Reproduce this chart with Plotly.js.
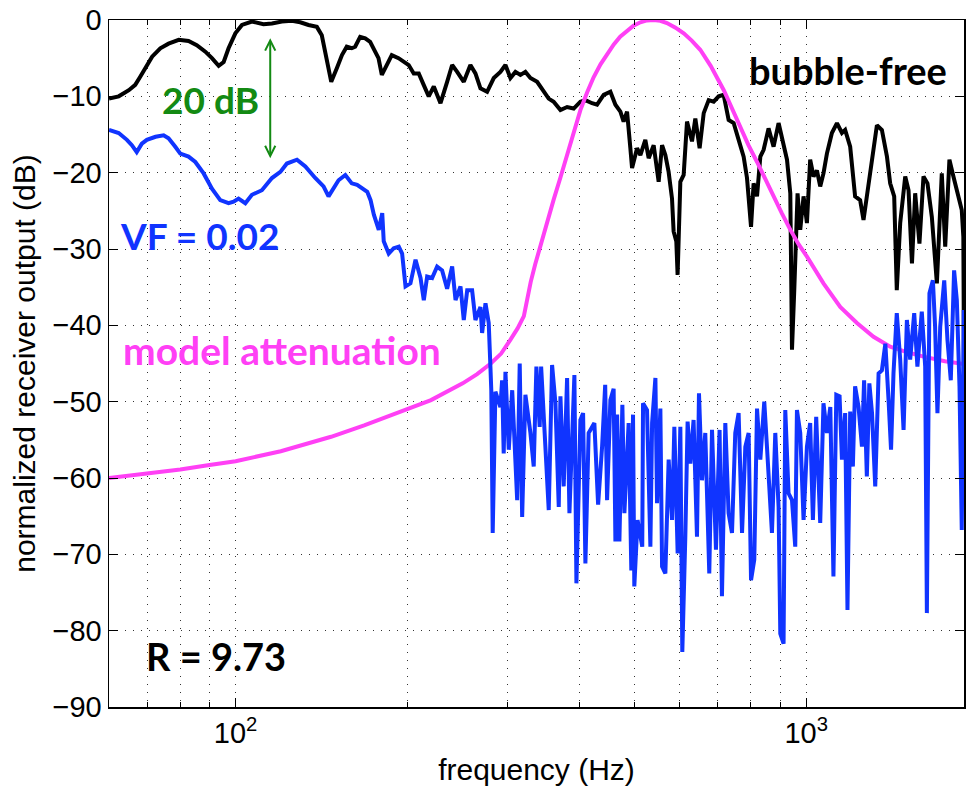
<!DOCTYPE html>
<html>
<head>
<meta charset="utf-8">
<script src="https://cdn.plot.ly/plotly-3.0.1.min.js"></script>
<style>html,body{margin:0;padding:0;background:#fff;}#chart{width:968px;height:789px;}</style>
</head>
<body>
<div id="chart"></div>
<script>
// [frequency (Hz), normalized receiver output (dB)]
const bubbleFree = [[60,-10.3],[62.4,-10.0],[65,-9.2],[66.7,-8.5],[68.1,-7.4],[69.5,-6.3],[71.4,-4.8],[73.8,-3.7],[76.3,-3.1],[79.5,-2.6],[82.7,-2.75],[85.5,-3.3],[88.5,-4.15],[90.9,-5.0],[93.4,-6.0],[95.3,-5.5],[97.2,-3.7],[99.9,-1.75],[102.6,-0.65],[106.8,-0.2],[111.9,-0.55],[115.8,-0.45],[120.5,-0.2],[125.5,-0.1],[129.8,-0.3],[134.2,-0.65],[138.8,-0.9],[141.6,-2.0],[144.5,-5.0],[147.1,-8.1],[150.5,-6.3],[153.6,-4.6],[156.6,-3.5],[159.8,-3.7],[162,-3.5],[165.3,-2.2],[168.7,-2.4],[172.1,-2.85],[175.6,-4.15],[178,-5.0],[180.4,-7.2],[184.1,-5.9],[187.8,-4.6],[193,-5.0],[199.5,-5.7],[201.1,-5.9],[205.2,-7.0],[209.4,-7.0],[213.6,-8.5],[218,-10.0],[222.5,-8.7],[228.6,-10.9],[234.8,-8.1],[239.6,-5.9],[244.5,-6.8],[251.1,-8.1],[257.9,-5.9],[263.2,-7.0],[268.6,-8.95],[275.9,-9.4],[283.4,-7.6],[291.1,-6.8],[297.1,-5.9],[303.1,-7.6],[309.3,-6.8],[315.6,-7.2],[322,-6.8],[328.6,-7.6],[337.6,-8.1],[344.4,-8.95],[353.7,-10.3],[360.9,-10.7],[370.9,-11.8],[381,-11.4],[391.3,-11.6],[402,-10.7],[410.2,-10.5],[421.4,-10.9],[430,-11.1],[441.6,-9.8],[453.7,-9.4],[463,-11.1],[472.4,-12.0],[478.6,-13.3],[485.3,-12.0],[491.8,-16.8],[495.2,-19.4],[505.3,-16.8],[512.1,-17.7],[522.4,-15.7],[529.5,-18.1],[540.3,-16.4],[551.3,-21.2],[558.9,-16.4],[566.4,-17.7],[573.9,-19.9],[581.8,-23.4],[585.6,-27.7],[592,-29.0],[595.1,-33.4],[601.7,-21.2],[609.8,-20.3],[618.1,-13.3],[630.7,-15.9],[639.2,-12.9],[650.4,-16.8],[661.2,-12.2],[674.6,-10.5],[688.3,-10.7],[702.3,-10.0],[716.6,-9.8],[731.2,-13.1],[746.1,-13.5],[761.3,-15.7],[776.8,-17.9],[787.4,-20.7],[800.3,-27.1],[808.7,-21.4],[819.9,-23.1],[830.9,-17.9],[842,-17.0],[859,-14.2],[876.5,-16.6],[894.4,-13.5],[912.6,-16.6],[925.3,-18.3],[937.7,-22.7],[944.1,-43.2],[952.8,-35.4],[965.6,-22.7],[976.1,-27.5],[989.3,-23.1],[1002.8,-26.6],[1016,-18.3],[1030,-20.5],[1044,-19.7],[1058,-21.8],[1072,-20.1],[1087,-17.5],[1109,-14.8],[1132,-13.5],[1155,-14.8],[1170,-14.4],[1194,-16.6],[1218,-23.1],[1243,-23.6],[1260,-26.2],[1286,-21.4],[1304,-17.9],[1330,-13.8],[1357,-14.4],[1385,-17.9],[1403,-21.4],[1426,-23.1],[1441,-35.4],[1461,-26.6],[1491,-20.5],[1511,-22.3],[1532,-31.9],[1552,-22.7],[1579,-29.3],[1605,-20.5],[1631,-21.4],[1660,-25.8],[1694,-34.5],[1728,-20.1],[1752,-29.7],[1782,-18.3],[1811,-20.5],[1836,-22.3],[1873,-24.9],[1885,-28.4],[1891,-49]];

const vf002 = [[60,-14.4],[62.4,-14.8],[64.5,-15.7],[65.8,-16.4],[67.1,-17.3],[68.5,-16.2],[69.9,-15.7],[72.4,-15.3],[74.8,-15.1],[76.3,-15.5],[78.4,-16.6],[80,-17.5],[82.7,-17.9],[85,-18.6],[87.9,-20.1],[90.9,-22.1],[94,-23.6],[97.2,-24.0],[99.2,-23.8],[101.2,-23.4],[104,-24.0],[106.8,-22.9],[111.2,-22.3],[115.8,-20.7],[119.8,-19.9],[123,-18.8],[128.1,-18.3],[132.5,-19.2],[137.9,-20.7],[142.6,-21.8],[145.5,-23.1],[151.5,-21.0],[155.7,-20.3],[159.8,-21.4],[163.3,-21.6],[170.1,-22.5],[172.4,-23.6],[174.7,-25.5],[178.2,-27.5],[180.7,-25.3],[181.8,-29.0],[185.5,-30.6],[189.3,-29.9],[193.2,-29.7],[195.8,-30.6],[198.5,-34.9],[202.5,-34.5],[206.7,-31.4],[210.9,-33.8],[213.7,-36.7],[216.6,-33.6],[221,-33.8],[225.5,-32.3],[230.1,-32.8],[234.8,-35.2],[239.6,-32.3],[242.9,-36.7],[247.8,-34.9],[251.1,-39.3],[254.6,-35.4],[259.7,-35.4],[263.2,-39.3],[268.6,-37.6],[270.4,-41.0],[274.1,-37.1],[277.7,-39.7],[279.6,-45.4],[280.6,-48.5],[282.2,-67.2],[285.3,-48.7],[291.1,-50.7],[293.1,-47.2],[295,-56.8],[297.1,-46.1],[301.1,-56.3],[305.3,-48.5],[311.5,-62.9],[314.7,-45.0],[317.8,-65.1],[322,-49.1],[328.6,-54.1],[333,-58.5],[336.6,-45.4],[341.1,-53.3],[343.1,-45.4],[349.1,-56.3],[353.8,-64.2],[358.6,-45.2],[363.5,-50.2],[368.4,-63.8],[370.9,-49.3],[375.8,-61.1],[381,-46.9],[384.6,-64.6],[392.4,-46.5],[395.6,-73.8],[402,-52.4],[406.4,-51.5],[410.2,-71.2],[415.6,-54.1],[425.3,-52.8],[431.8,-63.5],[438.8,-55.9],[444.3,-47.8],[447.7,-62.9],[453.7,-49.8],[459.7,-48.3],[463,-68.3],[466.2,-51.7],[470.5,-68.3],[476.2,-50.4],[480.1,-64.6],[488.4,-52.8],[493.7,-72.1],[497.1,-51.7],[499.7,-74.2],[506.3,-65.5],[516,-69.0],[517.6,-50.2],[526,-51.1],[533.2,-69.0],[536.9,-52.8],[544.1,-46.9],[547.7,-63.3],[555.1,-50.9],[558.9,-71.6],[566.4,-72.5],[574,-57.6],[581.9,-65.5],[587.3,-53.3],[595.2,-69.9],[601.7,-53.3],[606.5,-82.8],[613.9,-67.7],[619.6,-52.6],[626.5,-58.1],[634.7,-52.4],[643.5,-67.7],[648.7,-48.9],[656.6,-60.3],[665.4,-54.1],[676.2,-72.5],[683.7,-53.7],[694.7,-69.4],[704.9,-53.7],[711.7,-75.5],[721.4,-52.8],[731,-64.6],[741.1,-67.2],[751,-54.1],[761.2,-51.5],[771.8,-67.2],[782.1,-55.9],[792.6,-54.1],[800.3,-73.4],[810.9,-70.7],[819.9,-50.9],[830.9,-57.6],[844.2,-50.0],[853.4,-55.9],[870.8,-67.2],[882.6,-54.1],[894.4,-63.8],[900.6,-80.4],[912.6,-81.7],[918.9,-51.1],[931.1,-62.0],[944.1,-62.9],[956.6,-69.0],[963.2,-51.1],[976.1,-54.1],[989.3,-65.5],[1002.8,-55.9],[1016,-52.8],[1027.3,-65.5],[1041,-52.0],[1058,-65.9],[1072,-50.2],[1087,-54.1],[1102,-50.7],[1116,-72.9],[1129,-49.1],[1144,-49.3],[1155,-57.6],[1170,-51.5],[1181,-77.3],[1194,-51.3],[1207,-58.5],[1218,-48.0],[1235,-50.7],[1252,-55.9],[1263,-47.2],[1277,-59.8],[1290,-47.6],[1304,-51.5],[1321,-61.1],[1339,-46.3],[1357,-45.9],[1376,-42.4],[1394,-49.8],[1408,-56.3],[1422,-46.3],[1441,-38.4],[1461,-44.5],[1481,-53.7],[1501,-39.3],[1521,-44.5],[1546,-38.4],[1566,-45.4],[1594,-38.2],[1616,-45.4],[1627,-77.7],[1644,-35.8],[1667,-34.1],[1682,-40.2],[1698,-51.5],[1717,-40.2],[1745,-34.1],[1768,-41.9],[1792,-47.2],[1816,-32.8],[1836,-36.7],[1856,-48.0],[1873,-66.8],[1888,-38.0]];

const modelAttenuation = [[60,-60.0],[70,-59.4],[80,-58.9],[90,-58.3],[100,-57.8],[120,-56.5],[147,-54.6],[168,-53.1],[192,-51.5],[220,-49.8],[250,-47.6],[265,-46.4],[280,-45.0],[292,-43.7],[303,-41.9],[312,-40.4],[320,-38.8],[324,-36.6],[329,-34.3],[335,-32.0],[342,-29.6],[351,-26.4],[361,-23.5],[371,-20.6],[381,-17.7],[391,-14.7],[402,-11.8],[413,-9.5],[424,-7.5],[436,-5.8],[448,-4.4],[460,-3.2],[472,-2.2],[485,-1.4],[498,-0.75],[512,-0.3],[526,-0.05],[540,0],[555,-0.1],[570,-0.4],[590,-1.0],[610,-1.75],[630,-2.7],[652,-3.9],[680,-6.0],[717,-9.2],[740,-11.5],[766,-14.0],[792,-16.4],[820,-18.6],[848,-20.9],[876,-23.1],[906,-25.3],[938,-27.5],[970,-29.4],[1003,-31.0],[1072,-34.5],[1147,-37.6],[1227,-39.7],[1312,-41.5],[1403,-42.8],[1500,-43.5],[1605,-44.1],[1750,-44.7],[1900,-45.1]];

const xMajorTicks = [100, 1000];
const xMajorText = ['10<sup>2</sup>', '10<sup>3</sup>'];
const xMinorTicks = [60,70,80,90,200,300,400,500,600,700,800,900,2000];
const yTicks = [-90,-80,-70,-60,-50,-40,-30,-20,-10,0];
const xLimits = [60, 1890];

const arrowFreq = 115;
const arrowTop = -2.2;
const arrowBottom = -18.1;

const fx = a => a.map(p => p[0]);
const fy = a => a.map(p => p[1]);

const traces = [
  {x: fx(bubbleFree), y: fy(bubbleFree), mode: 'lines', line: {color: '#000000', width: 4}, hoverinfo: 'skip'},
  {x: fx(modelAttenuation), y: fy(modelAttenuation), mode: 'lines', line: {color: '#ff40f5', width: 4}, hoverinfo: 'skip'},
  {x: fx(vf002), y: fy(vf002), mode: 'lines', line: {color: '#1034ff', width: 4}, hoverinfo: 'skip'}
];

const gridDash = '1px,7px';
const tickFont = {family: 'Liberation Sans, Arial, sans-serif', size: 29, color: '#000'};
const titleFont = {family: 'Liberation Sans, Arial, sans-serif', size: 30, color: '#000'};
const labelFont = (c, s) => ({family: 'Lato, sans-serif', size: s || 37, color: c, weight: 'bold'});

const layout = {
  width: 968, height: 789,
  margin: {l: 109, r: 4, t: 20, b: 82},
  paper_bgcolor: '#fff', plot_bgcolor: '#fff',
  showlegend: false,
  xaxis: {
    type: 'log',
    range: [Math.log10(xLimits[0]), Math.log10(xLimits[1])],
    tickmode: 'array', tickvals: xMajorTicks, ticktext: xMajorText,
    ticks: 'inside', ticklen: 9, tickwidth: 1, tickcolor: '#000',
    showgrid: true, gridcolor: '#333', gridwidth: 1, griddash: gridDash,
    minor: {tickmode: 'array', tickvals: xMinorTicks, ticks: 'inside', ticklen: 5, tickwidth: 1, tickcolor: '#000',
            showgrid: true, gridcolor: '#333', gridwidth: 1, griddash: gridDash},
    showline: true, linecolor: '#000', linewidth: 1.5, mirror: 'ticks',
    zeroline: false,
    tickfont: tickFont,
    title: {text: 'frequency (Hz)', font: titleFont, standoff: 10}
  },
  yaxis: {
    range: [-90, 0],
    tickmode: 'array', tickvals: yTicks,
    ticks: 'inside', ticklen: 9, tickwidth: 1, tickcolor: '#000',
    showgrid: true, gridcolor: '#333', gridwidth: 1, griddash: gridDash,
    showline: true, linecolor: '#000', linewidth: 1.5, mirror: 'ticks',
    zeroline: false,
    tickfont: tickFont,
    title: {text: 'normalized receiver output (dB)', font: titleFont, standoff: 8}
  },
  annotations: [
    {xref: 'paper', yref: 'paper', x: 0.864, y: 0.927, text: 'bubble-free', showarrow: false, xanchor: 'center', yanchor: 'middle', font: labelFont('#000', 38)},
    {xref: 'paper', yref: 'paper', x: 0.119, y: 0.8836, text: '20 dB', showarrow: false, xanchor: 'center', yanchor: 'middle', font: labelFont('#138a13', 37)},
    {xref: 'paper', yref: 'paper', x: 0.1064, y: 0.6856, text: 'VF = 0.02', showarrow: false, xanchor: 'center', yanchor: 'middle', font: labelFont('#1034ff', 37)},
    {xref: 'paper', yref: 'paper', x: 0.2023, y: 0.5197, text: 'model attenuation', showarrow: false, xanchor: 'center', yanchor: 'middle', font: labelFont('#ff40f5', 39)},
    {xref: 'paper', yref: 'paper', x: 0.125, y: 0.0742, text: 'R = 9.73', showarrow: false, xanchor: 'center', yanchor: 'middle', font: labelFont('#000', 38)},
    {xref: 'x', yref: 'y', axref: 'x', ayref: 'y',
     x: Math.log10(arrowFreq), y: arrowBottom, ax: Math.log10(arrowFreq), ay: arrowTop,
     text: '', showarrow: true, arrowside: 'end+start', arrowhead: 5, startarrowhead: 5,
     arrowsize: 1, startarrowsize: 1, arrowwidth: 2, arrowcolor: '#138a13', standoff: 0, startstandoff: 0}
  ]
};

Plotly.newPlot('chart', traces, layout, {displayModeBar: false, staticPlot: true});
</script>
</body>
</html>
